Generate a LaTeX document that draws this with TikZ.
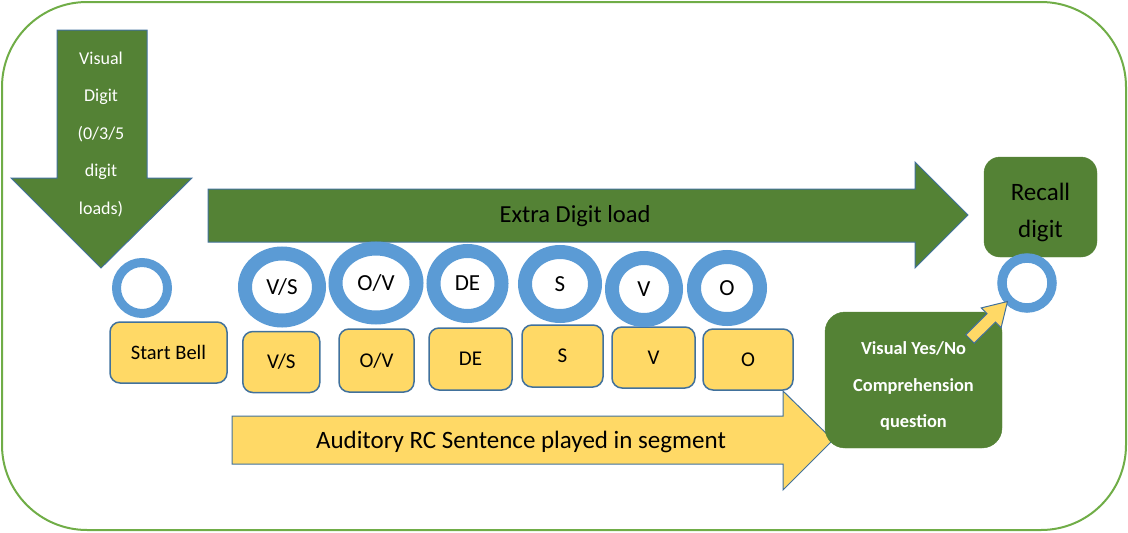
\documentclass[tikz,border=0pt]{standalone}
\usepackage{fontspec}
\setmainfont{Carlito}
\usetikzlibrary{shapes.geometric}
\definecolor{dkgreen}{HTML}{548235}
\definecolor{frgreen}{HTML}{70AD47}
\definecolor{edgeblue}{HTML}{41719C}
\definecolor{ringblue}{HTML}{5B9BD5}
\definecolor{sand}{HTML}{FFD966}
\def\fsz#1#2{\fontsize{#1}{#2}\selectfont}
\def\dgreen{\filldraw[fill=dkgreen,draw=edgeblue,line width=1pt]}
\def\dsand{\filldraw[fill=sand,draw=edgeblue,line width=1pt]}
\tikzset{
  ring/.style={ellipse,draw=ringblue,line width=14pt,inner sep=0pt,font=\fsz{23}{23}},
  smallring/.style={circle,draw=ringblue,line width=9pt,inner sep=0pt,minimum size=51pt},
  wordbox/.style={rectangle,rounded corners=10pt,fill=sand,draw=edgeblue,line width=1.5pt,
    inner sep=0pt,font=\fsz{21}{21}},
  greenbox/.style={rectangle,fill=dkgreen,draw=dkgreen,inner sep=0pt},
  label/.style={inner sep=0pt,align=center}
}
\begin{document}
\begin{tikzpicture}[x=1pt,y=-1pt]
  \useasboundingbox (0,0) rectangle (1128,533);
  \draw[frgreen,line width=2pt,rounded corners=85pt] (2,2) rectangle (1126,530);

  % block arrows
  \dgreen (57,30) -- (147,30) -- (147,178) -- (192,178) -- (101,268) -- (11,178) -- (57,178) -- cycle;
  \node[label,text=white,font=\fsz{18}{37.5}] (digits) at (101,134)
    {Visual\\Digit\\(0/3/5\\digit\\loads)};
  \dgreen (208,189) -- (915,189) -- (915,162) -- (968,215) -- (915,268) -- (915,242) -- (208,242) -- cycle;
  \node[label,font=\fsz{24.5}{24.5}] (extra) at (575,216) {Extra Digit load};
  \dsand (232,416) -- (783,416) -- (783,391) -- (833,440) -- (783,490) -- (783,464) -- (232,464) -- cycle;
  \node[label,font=\fsz{25}{25}] (sentence) at (521,442) {Auditory RC Sentence played in segment};

  % segments
  \node[wordbox,minimum width=117pt,minimum height=61pt,font=\fsz{20.5}{20.5}] (bell) at (168.5,352.5) {Start Bell};
  \node[wordbox,minimum width=77pt,minimum height=61pt] (bVS) at (281.3,362) {V/S};
  \node[wordbox,minimum width=75pt,minimum height=63pt] (bOV) at (376.5,360.5) {O/V};
  \node[wordbox,minimum width=83pt,minimum height=62pt] (bDE) at (470.5,359) {DE};
  \node[wordbox,minimum width=81pt,minimum height=62pt] (bS) at (562.5,356) {S};
  \node[wordbox,minimum width=83pt,minimum height=61pt] (bV) at (653.5,357.5) {V};
  \node[wordbox,minimum width=90pt,minimum height=61pt] (bO) at (748,359.5) {O};

  \node[smallring] (rstart) at (142,288) {};
  \node[ring,minimum width=74pt,minimum height=67pt] (rVS) at (282,287) {V/S};
  \node[ring,minimum width=81pt,minimum height=69pt] (rOV) at (376,283) {O/V};
  \node[ring,minimum width=68pt,minimum height=65pt] (rDE) at (467.5,283.5) {DE};
  \node[ring,minimum width=70pt,minimum height=64pt] (rS) at (560,284) {S};
  \node[ring,minimum width=64pt,minimum height=62pt] (rV) at (644,289) {V};
  \node[ring,minimum width=66pt,minimum height=62pt] (rO) at (727,288) {O};

  % end of trial
  \node[greenbox,rounded corners=20pt,minimum width=177pt,minimum height=136pt] (question) at (913.5,380) {};
  \node[label,text=white,font=\bfseries\fsz{18.4}{36.5}] (qtext) at (913.5,386)
    {Visual Yes/No\\Comprehension\\question};
  \node[greenbox,rounded corners=16pt,minimum width=113pt,minimum height=100pt] (recall) at (1040.5,207) {};
  \node[label,font=\fsz{25}{37}] (rtext) at (1040.5,212) {Recall\\digit};
  \node[smallring,line width=9.5pt,minimum size=50pt] (rend) at (1027,283) {};
  \dsand (974.2,343.2) -- (995.5,322) -- (1001.1,327.7) -- (1007.5,301.5)
    -- (981.3,307.9) -- (987,313.6) -- (965.8,334.8) -- cycle;
\end{tikzpicture}
\end{document}
